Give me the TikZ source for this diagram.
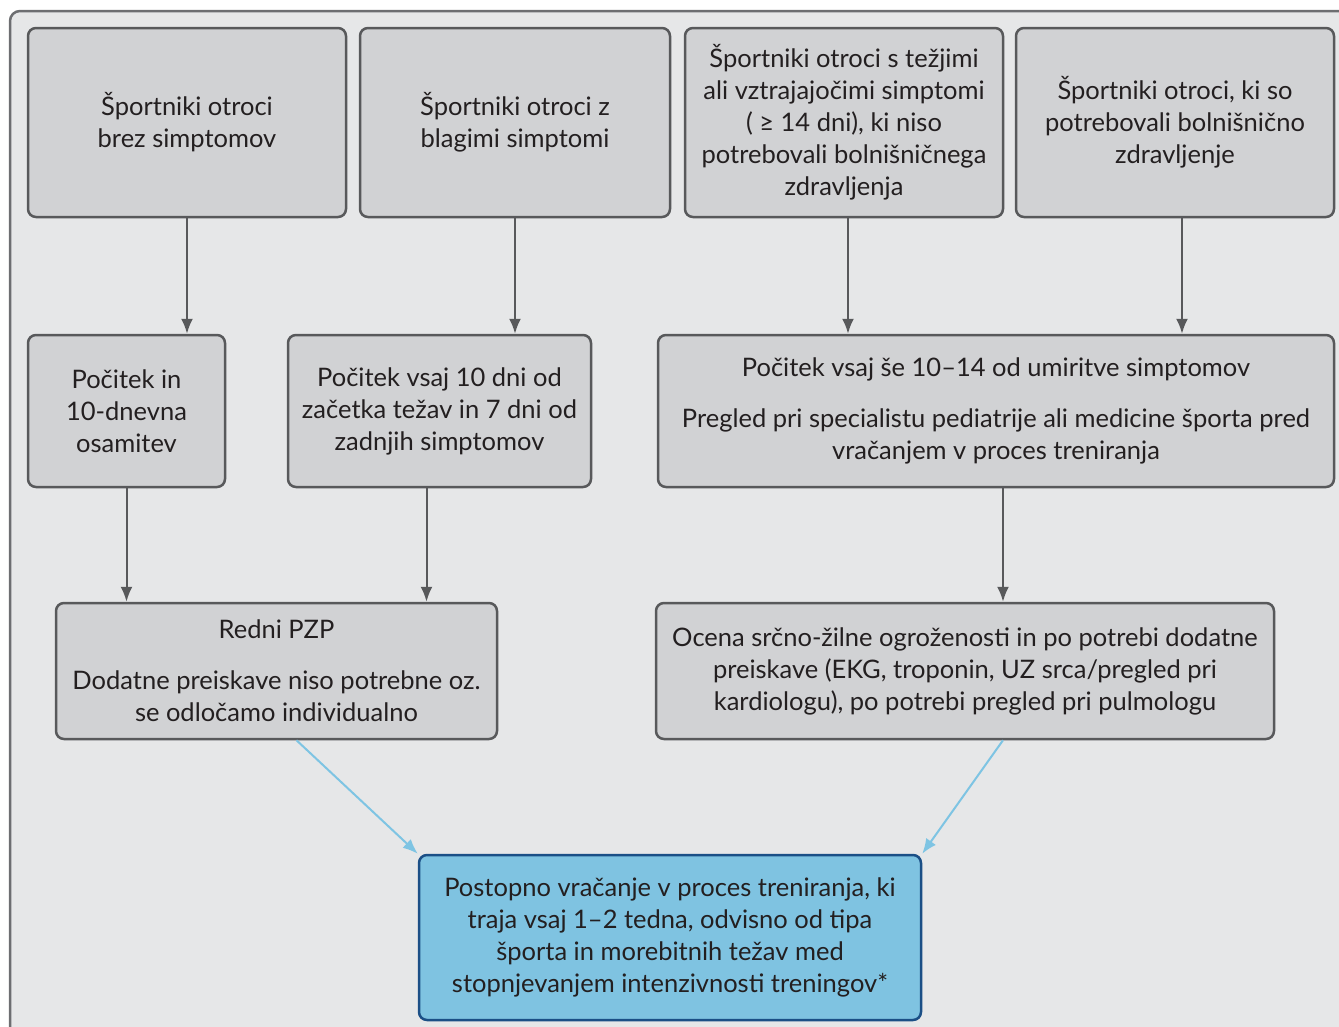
\documentclass[tikz,border=0pt]{standalone}
\usepackage{fontspec}
\setmainfont{Lato}
\usetikzlibrary{arrows.meta}
\definecolor{bgfill}{HTML}{E6E7E8}
\definecolor{boxfill}{HTML}{D1D2D4}
\definecolor{boxline}{HTML}{58595B}
\definecolor{frameline}{HTML}{6D6E71}
\definecolor{endfill}{HTML}{7FC3E1}
\definecolor{endline}{HTML}{1B4F86}
\definecolor{bluearrow}{HTML}{7EC4E3}
\definecolor{txt}{HTML}{231F20}
\tikzset{>={Latex[length=15pt,width=12pt]}}
\tikzset{
	box/.style={draw=boxline, fill=boxfill, line width=2.5pt, rounded corners=8pt,
			align=center, inner sep=0pt, text=txt,
			font=\fontsize{25.5}{32}\selectfont},
	endbox/.style={box, draw=endline, fill=endfill},
	flow/.style={->, draw=boxline, line width=2pt},
	toend/.style={->, draw=bluearrow, line width=2pt}
}

\begin{document}
\begin{tikzpicture}[x=1pt,y=-1pt]
		\useasboundingbox (0,0) rectangle (1339,1026);
		\draw[frameline, fill=bgfill, line width=2.5pt, rounded corners=10pt] (10,11) rectangle (1360,1050);

		\node[box, minimum width=318pt, minimum height=189pt] (a1) at (187,122.5) {Športniki otroci\\brez simptomov};
		\node[box, minimum width=310pt, minimum height=189pt] (a2) at (515,122.5) {Športniki otroci z\\blagimi simptomi};
		\node[box, minimum width=318pt, minimum height=189pt] (a3) at (844,122.5) {Športniki otroci s težjimi\\ali vztrajajočimi simptomi\\( ≥ 14 dni), ki niso\\potrebovali bolnišničnega\\zdravljenja};
		\node[box, minimum width=318pt, minimum height=189pt] (a4) at (1175,122.5) {Športniki otroci, ki so\\potrebovali bolnišnično\\zdravljenje};

		\node[box, minimum width=197pt, minimum height=152pt] (b1) at (126.5,411) {Počitek in\\10-dnevna\\osamitev};
		\node[box, minimum width=303pt, minimum height=152pt] (b2) at (439.5,411) {Počitek vsaj 10 dni od\\začetka težav in 7 dni od\\zadnjih simptomov};
		\node[box, minimum width=676pt, minimum height=152pt] (b3) at (996,411) {Počitek vsaj še 10–14 od umiritve simptomov\\[19pt]Pregled pri specialistu pediatrije ali medicine športa pred\\vračanjem v proces treniranja};

		\node[box, minimum width=441pt, minimum height=136pt] (c1) at (276.5,671) {Redni PZP\\[19pt]Dodatne preiskave niso potrebne oz.\\se odločamo individualno};
		\node[box, minimum width=618pt, minimum height=136pt] (c2) at (965,671) {Ocena srčno-žilne ogroženosti in po potrebi dodatne\\preiskave (EKG, troponin, UZ srca/pregled pri\\kardiologu), po potrebi pregled pri pulmologu};

		\node[endbox, minimum width=502pt, minimum height=165pt] (d) at (670,937.5) {Postopno vračanje v proces treniranja, ki\\traja vsaj 1–2 tedna, odvisno od tipa\\športa in morebitnih težav med\\stopnjevanjem intenzivnosti treningov*};

		\draw[flow] (a1.south) -- (a1.south |- b1.north);
		\draw[flow] (a2.south) -- (a2.south |- b2.north);
		\draw[flow] ([xshift=4pt]a3.south) -- ([xshift=4pt]a3.south |- b3.north);
		\draw[flow] ([xshift=7pt]a4.south) -- ([xshift=7pt]a4.south |- b3.north);

		\draw[flow] (b1.south) -- (b1.south |- c1.north);
		\draw[flow] ([xshift=-13pt]b2.south) -- ([xshift=-13pt]b2.south |- c1.north);
		\draw[flow] ([xshift=7pt]b3.south) -- ([xshift=7pt]b3.south |- c2.north);

		\draw[toend] ([xshift=20pt]c1.south) -- (d.north west);
		\draw[toend] ([xshift=38pt]c2.south) -- (d.north east);
	\end{tikzpicture}
\end{document}
